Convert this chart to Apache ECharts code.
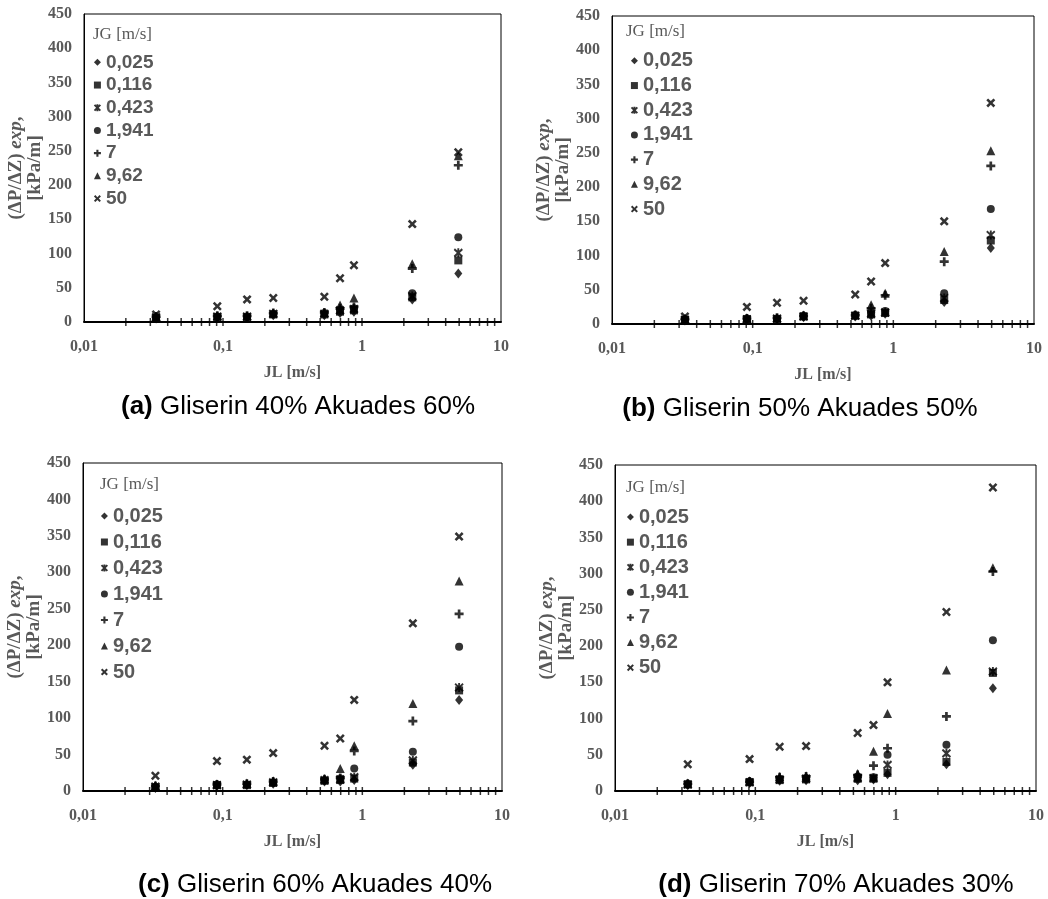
<!DOCTYPE html>
<html>
<head>
<meta charset="utf-8">
<script src="https://cdn.jsdelivr.net/npm/echarts@6.0.0/dist/echarts.min.js"></script>
<style>
  html, body { margin: 0; padding: 0; background: #fff; }
  #chart { width: 1048px; height: 899px; }
</style>
</head>
<body>
<div id="chart"></div>
<script>
// JL [m/s] - same liquid velocities for every panel
const jl = [0.033, 0.091, 0.149, 0.23, 0.536, 0.695, 0.875, 2.3, 4.93];
// JG [m/s] legend names
const jgLabels = ['0,025', '0,116', '0,423', '1,941', '7', '9,62', '50'];
// minor ticks on the log axis
const logTicks = [0.02, 0.03, 0.04, 0.05, 0.06, 0.07, 0.08, 0.09, 0.1,
  0.2, 0.3, 0.4, 0.5, 0.6, 0.7, 0.8, 0.9, 1, 2, 3, 4, 5, 6, 7, 8, 9];

// (ΔP/ΔZ) exp [kPa/m], one row per JG
const panelA = [
  [5, 6, 6, 10, 10, 13, 15, 33, 71],
  [6, 7, 7, 11, 11, 15, 17, 36, 90],
  [7, 8, 8, 12, 12, 17, 19, 38, 101],
  [7, 8, 8, 12, 13, 18, 20, 42, 124],
  [8, 9, 9, 13, 14, 20, 22, 78, 229],
  [8, 9, 9, 13, 14, 25, 35, 85, 243],
  [11, 23, 33, 35, 37, 64, 83, 143, 248]
];
const panelB = [
  [5, 6, 7, 10, 11, 12, 15, 32, 111],
  [6, 7, 7, 11, 12, 14, 16, 35, 122],
  [6, 7, 8, 11, 12, 15, 17, 38, 130],
  [7, 8, 8, 12, 13, 17, 19, 45, 168],
  [7, 8, 9, 12, 13, 23, 42, 91, 231],
  [8, 9, 9, 13, 14, 28, 45, 106, 253],
  [11, 25, 31, 34, 43, 62, 89, 150, 323]
];
const panelC = [
  [4, 7, 8, 10, 13, 13, 15, 36, 125],
  [5, 8, 8, 11, 14, 15, 17, 39, 138],
  [6, 8, 9, 12, 15, 16, 19, 42, 142],
  [6, 9, 9, 12, 15, 17, 31, 54, 198],
  [7, 9, 10, 13, 16, 18, 55, 96, 243],
  [8, 10, 11, 14, 17, 31, 62, 120, 288],
  [21, 41, 43, 52, 62, 72, 125, 230, 349]
];
const panelD = [
  [8, 11, 14, 15, 15, 16, 23, 37, 142],
  [9, 12, 15, 16, 17, 17, 25, 40, 163],
  [9, 12, 16, 17, 18, 18, 36, 52, 165],
  [10, 13, 17, 18, 20, 19, 50, 64, 208],
  [10, 13, 19, 20, 22, 35, 59, 103, 303],
  [11, 14, 20, 21, 24, 55, 107, 167, 308],
  [37, 44, 61, 62, 80, 91, 150, 247, 419]
];
const captions = [
  ['(a)', 'Gliserin 40% Akuades 60%'],
  ['(b)', 'Gliserin 50% Akuades 50%'],
  ['(c)', 'Gliserin 60% Akuades 40%'],
  ['(d)', 'Gliserin 70% Akuades 30%']
];

const GRAY = '#595959';
const SERIF = '"Liberation Serif", "Times New Roman", serif';
const SANS = '"Liberation Sans", Arial, sans-serif';

const symbols = [
  'diamond',
  'rect',
  'path://M0,0L10,10M10,0L0,10M5,-1L5,11',
  'circle',
  'path://M3.5,0H6.5V3.5H10V6.5H6.5V10H3.5V6.5H0V3.5H3.5Z',
  'triangle',
  'path://M0,2L2,0L5,3L8,0L10,2L7,5L10,8L8,10L5,7L2,10L0,8L3,5Z'
];
const symbolSizes = [[8, 10], 8, [8, 9], 8, 9, 9, 9];
const strokeOnly = [false, false, true, false, false, false, false];

const panels = [
  { data: panelA, grid: { left: 84, top: 14, width: 417, height: 308 },
    jg: [93, 35], legend: [93.5, 51], step: 22.7, font: 19, cap: [298, 407] },
  { data: panelB, grid: { left: 612, top: 16, width: 422, height: 308 },
    jg: [626, 32], legend: [630.5, 48.5], step: 24.7, font: 20, cap: [800, 409] },
  { data: panelC, grid: { left: 83, top: 463, width: 419, height: 328 },
    jg: [100, 485], legend: [100.5, 503], step: 26, font: 20, cap: [315, 885] },
  { data: panelD, grid: { left: 615, top: 465, width: 421, height: 326 },
    jg: [626, 488], legend: [626.5, 504.5], step: 25.1, font: 20, cap: [836, 885] }
];

const grid = [], xAxis = [], yAxis = [], series = [], legend = [], graphic = [];

panels.forEach(function (p, pi) {
  grid.push(Object.assign({ show: true, borderColor: '#000', borderWidth: 1, backgroundColor: '#fff' }, p.grid));
  xAxis.push({
    type: 'log', logBase: 10, min: 0.01, max: 10, gridIndex: pi,
    name: 'JL [m/s]', nameLocation: 'middle', nameGap: 43,
    nameTextStyle: { color: GRAY, fontFamily: SERIF, fontWeight: 'bold', fontSize: 16 },
    axisLine: { show: true, lineStyle: { color: '#000', width: 2 } },
    axisTick: { show: false },
    splitLine: { show: false },
    axisLabel: {
      color: GRAY, fontFamily: SERIF, fontWeight: 'bold', fontSize: 16, margin: 17,
      formatter: function (v) { return String(+v.toPrecision(6)).replace('.', ','); }
    }
  });
  yAxis.push({
    type: 'value', min: 0, max: 450, interval: 50, gridIndex: pi,
    name: '(ΔP/ΔZ) {i|exp},\n[kPa/m]', nameLocation: 'middle', nameGap: 36, nameRotate: 90,
    nameTextStyle: {
      color: GRAY, fontFamily: SERIF, fontWeight: 'bold', fontSize: 19, lineHeight: 19,
      rich: { i: { fontStyle: 'italic', fontWeight: 'bold', fontFamily: SERIF, fontSize: 19, color: GRAY, lineHeight: 19 } }
    },
    axisLine: { show: true, lineStyle: { color: '#000', width: 1 } },
    axisTick: { show: false },
    splitLine: { show: false },
    axisLabel: { color: GRAY, fontFamily: SERIF, fontWeight: 'bold', fontSize: 16, margin: 12 }
  });

  p.data.forEach(function (vals, si) {
    series.push({
      type: 'scatter', name: jgLabels[si], xAxisIndex: pi, yAxisIndex: pi,
      symbol: symbols[si], symbolSize: symbolSizes[si], clip: false,
      itemStyle: { color: '#000', borderColor: '#000', borderWidth: strokeOnly[si] ? 2 : 0 },
      data: jl.map(function (x, k) { return [x, vals[k]]; })
    });
  });
  // tick marks crossing the x axis line
  series.push({
    type: 'scatter', xAxisIndex: pi, yAxisIndex: pi, silent: true, clip: false,
    symbol: 'rect', symbolSize: [1.5, 8], z: 1,
    itemStyle: { color: '#000' },
    data: logTicks.map(function (v) { return [v, 0]; })
  });

  legend.push({
    data: jgLabels, orient: 'vertical', left: p.legend[0], top: p.legend[1],
    padding: 0, itemGap: 0, itemWidth: 7, itemHeight: 7, selectedMode: false,
    textStyle: { fontFamily: SANS, fontWeight: 'bold', fontSize: p.font, color: GRAY, lineHeight: p.step }
  });

  graphic.push({
    type: 'text', x: p.jg[0], y: p.jg[1],
    style: { text: 'JG [m/s]', font: '17px ' + SERIF, fill: GRAY, textVerticalAlign: 'middle' }
  });
  graphic.push({
    type: 'text', x: p.cap[0], y: p.cap[1],
    style: {
      text: '{b|' + captions[pi][0] + '} ' + captions[pi][1],
      font: '26px ' + SANS, fill: '#000', textAlign: 'center', textVerticalAlign: 'middle',
      rich: { b: { fontWeight: 'bold', fontSize: 26, fontFamily: SANS, fill: '#000' } }
    }
  });
});

const chart = echarts.init(document.getElementById('chart'));
chart.setOption({
  animation: false,
  backgroundColor: '#fff',
  grid: grid,
  xAxis: xAxis,
  yAxis: yAxis,
  legend: legend,
  graphic: graphic,
  series: series
});
</script>
</body>
</html>
